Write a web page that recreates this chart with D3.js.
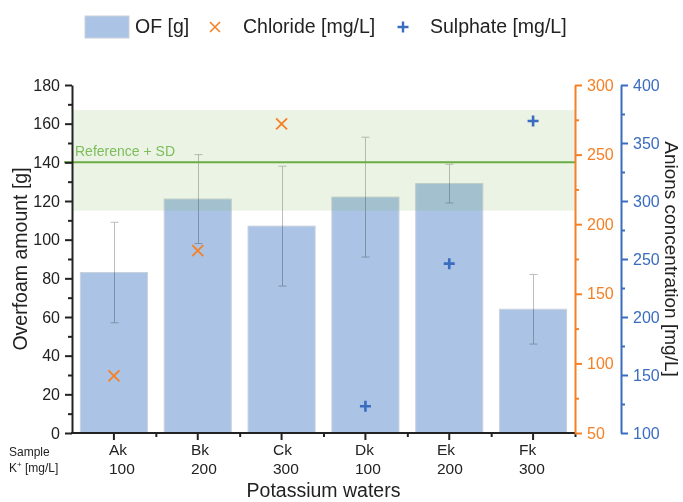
<!DOCTYPE html>
<html>
<head>
<meta charset="utf-8">
<script src="https://cdn.jsdelivr.net/npm/d3@7"></script>
<style>
  html, body { margin: 0; padding: 0; background: #fff; }
  svg { display: block; font-family: "Liberation Sans", Arial, sans-serif; }
</style>
</head>
<body>
<svg id="chart" width="683" height="502"></svg>
<script>
// ---- Data ----
const categories = ["Ak", "Bk", "Ck", "Dk", "Ek", "Fk"];
const potassium = ["100", "200", "300", "100", "200", "300"];
const overfoam = [83, 121, 107, 122, 129, 64];
const errLow = [57, 98, 76, 91, 119, 46];
const errHigh = [109, 144, 138, 153, 139, 82];
const chlorideCats = ["Ak", "Bk", "Ck"];
const chloride = [91, 181, 272];
const sulphateCats = ["Dk", "Ek", "Fk"];
const sulphate = [123, 246, 369];
const reference = 140;
const refBand = [115, 167];
const leftTicks = [0, 20, 40, 60, 80, 100, 120, 140, 160, 180];
const chlorideTicks = [50, 100, 150, 200, 250, 300];
const sulphateTicks = [100, 150, 200, 250, 300, 350, 400];

// ---- Styles ----
const C = {
  bar: "#abc4e5", barStroke: "#c9d1dc", orange: "#f58025", blue: "#3a6cbf",
  green: "#6aad45", greenText: "#7cbd5a", band: "#70ad47", text: "#222"
};
const FONT_TICK = 16, FONT_TITLE = 19.5;

const svg = d3.select("#chart");
const L = 72, R = 575, T = 85, B = 433, RB = 621;

const x = d3.scaleBand().domain(categories).range([L, R]).paddingInner(0.2).paddingOuter(0.1);
const xi = d3.scaleLinear().domain([0, categories.length]).range([L, R]);
const yL = d3.scaleLinear().domain([0, 180]).range([B, T]);
const yO = d3.scaleLinear().domain([50, 300]).range([B, T]);
const yB = d3.scaleLinear().domain([100, 400]).range([B, T]);
const xLab = d3.scalePoint().domain(categories).range([109, 519]);

// ---- Bars ----
svg.append("g").selectAll("rect").data(categories).join("rect")
  .attr("x", d => x(d)).attr("width", x.bandwidth())
  .attr("y", (d, i) => yL(overfoam[i])).attr("height", (d, i) => yL(0) - yL(overfoam[i]))
  .attr("fill", C.bar).attr("stroke", C.barStroke).attr("stroke-width", 1);

// ---- Error bars ----
const eg = svg.append("g").attr("stroke", "#bdbdbd").attr("stroke-width", 1)
  .style("mix-blend-mode", "multiply");
categories.forEach((c, i) => {
  const cx = Math.round(x(c) + x.bandwidth() / 2) + 0.5;
  eg.append("line").attr("x1", cx).attr("x2", cx).attr("y1", yL(errLow[i])).attr("y2", yL(errHigh[i]));
  [errLow[i], errHigh[i]].forEach(v => {
    eg.append("line").attr("x1", cx - 4).attr("x2", cx + 4).attr("y1", yL(v)).attr("y2", yL(v));
  });
});

// ---- Reference band & line ----
svg.append("rect").attr("x", L).attr("width", R - L)
  .attr("y", yL(refBand[1])).attr("height", yL(refBand[0]) - yL(refBand[1]))
  .attr("fill", C.band).attr("fill-opacity", 0.14);
svg.append("line").attr("x1", L - 8).attr("x2", R).attr("y1", yL(reference)).attr("y2", yL(reference))
  .attr("stroke", C.green).attr("stroke-width", 2);
svg.append("text").attr("x", L + 3).attr("y", yL(reference) - 6)
  .attr("fill", C.greenText).attr("font-size", 14).text("Reference + SD");

// ---- Markers ----
function cross(g, cx, cy, s, color, w) {
  g.append("path").attr("d", `M${cx - s},${cy - s}L${cx + s},${cy + s}M${cx - s},${cy + s}L${cx + s},${cy - s}`)
    .attr("stroke", color).attr("stroke-width", w).attr("fill", "none");
}
function plus(g, cx, cy, s, color, w) {
  g.append("path").attr("d", `M${cx - s},${cy}L${cx + s},${cy}M${cx},${cy - s}L${cx},${cy + s}`)
    .attr("stroke", color).attr("stroke-width", w).attr("fill", "none");
}
const mg = svg.append("g");
chlorideCats.forEach((c, i) => cross(mg, x(c) + x.bandwidth() / 2, yO(chloride[i]), 5.5, C.orange, 1.8));
sulphateCats.forEach((c, i) => plus(mg, x(c) + x.bandwidth() / 2, yB(sulphate[i]), 5.5, C.blue, 2.6));

// ---- Axes ----
function styleAxis(g, color) {
  g.select(".domain").attr("stroke", color).attr("stroke-width", 2);
  g.selectAll(".tick line").attr("stroke", color).attr("stroke-width", 2);
  g.selectAll(".tick text").attr("fill", color).attr("font-size", FONT_TICK)
    .attr("font-family", "Liberation Sans, Arial, sans-serif");
}
// left
const gl = svg.append("g").attr("transform", `translate(${L},0)`)
  .call(d3.axisLeft(yL).tickValues(leftTicks).tickSize(7).tickSizeOuter(0).tickPadding(5));
styleAxis(gl, C.text);
const glm = svg.append("g").attr("transform", `translate(${L},0)`)
  .call(d3.axisLeft(yL).tickValues(d3.range(10, 180, 20)).tickSize(4).tickFormat(""));
glm.select(".domain").remove(); styleAxis(glm, C.text);

// bottom
const gb = svg.append("g").attr("transform", `translate(0,${B})`)
  .call(d3.axisBottom(x).tickSize(7).tickSizeOuter(0).tickFormat(""));
gb.select(".domain").attr("d", `M${L - 1},0H${R}`);
styleAxis(gb, C.text);
const gbm = svg.append("g").attr("transform", `translate(0,${B})`)
  .call(d3.axisBottom(xi).tickValues(d3.range(1, categories.length + 1)).tickSize(4).tickFormat(""));
gbm.select(".domain").remove(); styleAxis(gbm, C.text);

// orange right
const go = svg.append("g").attr("transform", `translate(${R},0)`)
  .call(d3.axisRight(yO).tickValues(chlorideTicks).tickSize(7).tickSizeOuter(0).tickPadding(5));
styleAxis(go, C.orange);
const gom = svg.append("g").attr("transform", `translate(${R},0)`)
  .call(d3.axisRight(yO).tickValues(d3.range(75, 300, 50)).tickSize(4).tickFormat(""));
gom.select(".domain").remove(); styleAxis(gom, C.orange);

// blue right
const gB = svg.append("g").attr("transform", `translate(${RB},0)`)
  .call(d3.axisRight(yB).tickValues(sulphateTicks).tickSize(7).tickSizeOuter(0).tickPadding(5));
styleAxis(gB, C.blue);
const gBm = svg.append("g").attr("transform", `translate(${RB},0)`)
  .call(d3.axisRight(yB).tickValues(d3.range(125, 400, 50)).tickSize(4).tickFormat(""));
gBm.select(".domain").remove(); styleAxis(gBm, C.blue);

// ---- Category labels ----
const lg = svg.append("g").attr("fill", C.text).attr("font-size", 15.5);
categories.forEach((c, i) => {
  lg.append("text").attr("x", xLab(c)).attr("y", 455).text(c);
  lg.append("text").attr("x", xLab(c)).attr("y", 474).text(potassium[i]);
});
svg.append("text").attr("x", 9).attr("y", 456).attr("font-size", 12).attr("fill", C.text).text("Sample");
const kt = svg.append("text").attr("x", 9).attr("y", 472).attr("font-size", 12).attr("fill", C.text);
kt.append("tspan").text("K");
kt.append("tspan").attr("font-size", 8).attr("dy", -5).text("+");
kt.append("tspan").attr("dy", 5).text(" [mg/L]");

// ---- Titles ----
svg.append("text").attr("x", (L + R) / 2).attr("y", 497).attr("text-anchor", "middle")
  .attr("font-size", FONT_TITLE).attr("fill", C.text).text("Potassium waters");
svg.append("text").attr("transform", `translate(27,${(T + B) / 2}) rotate(-90)`).attr("text-anchor", "middle")
  .attr("font-size", FONT_TITLE).attr("fill", C.text).text("Overfoam amount [g]");
svg.append("text").attr("transform", `translate(665,${(T + B) / 2}) rotate(90)`).attr("text-anchor", "middle")
  .attr("font-size", 19).attr("fill", C.text).text("Anions concentration [mg/L]");

// ---- Legend ----
const lgd = svg.append("g").attr("font-size", FONT_TITLE).attr("fill", C.text);
lgd.append("rect").attr("x", 85).attr("y", 16).attr("width", 44).attr("height", 22)
  .attr("fill", C.bar).attr("stroke", C.barStroke);
lgd.append("text").attr("x", 135).attr("y", 33).text("OF [g]");
cross(lgd, 215, 27, 5, C.orange, 1.6);
lgd.append("text").attr("x", 243).attr("y", 33).text("Chloride [mg/L]");
plus(lgd, 403, 27, 5.5, C.blue, 2.4);
lgd.append("text").attr("x", 430).attr("y", 33).text("Sulphate [mg/L]");
</script>
</body>
</html>
